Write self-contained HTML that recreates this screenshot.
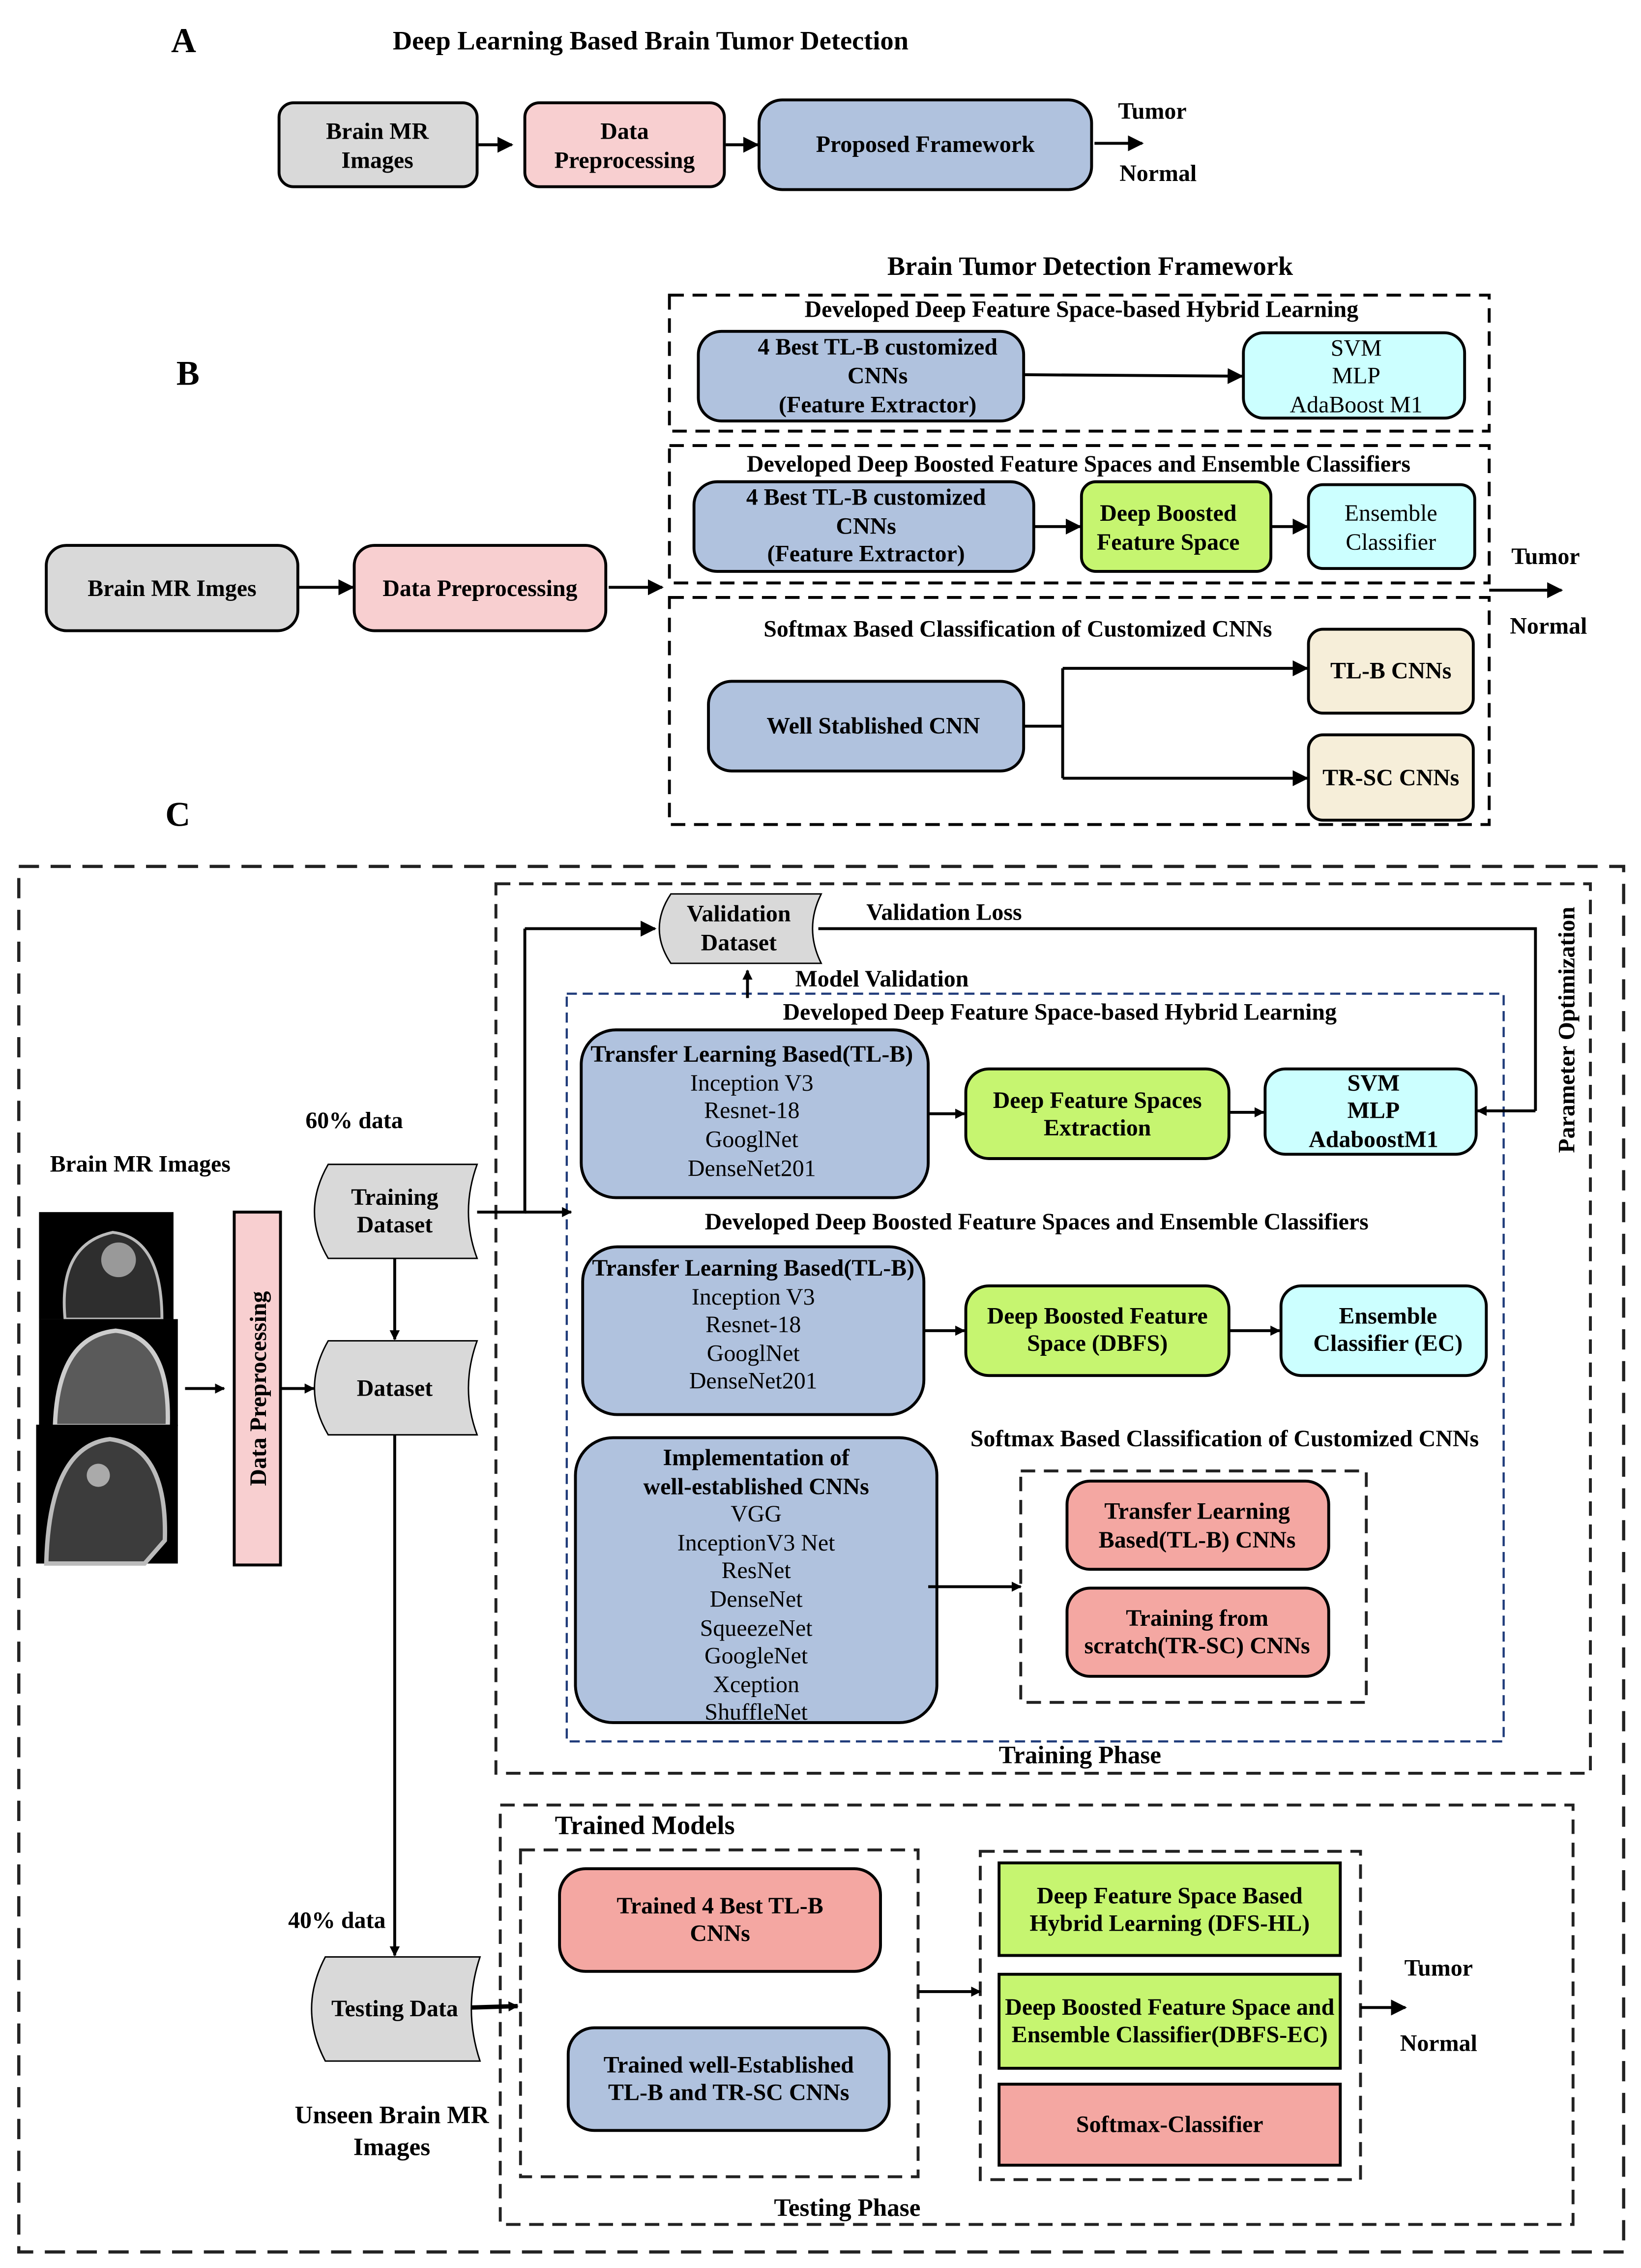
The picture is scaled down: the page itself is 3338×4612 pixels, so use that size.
<!DOCTYPE html>
<html><head><meta charset="utf-8"><style>
html,body{margin:0;padding:0;background:#fff}
svg{display:block}
text{font-family:"Liberation Serif",serif;fill:#000}
.b{font-weight:bold}
</style></head><body>
<svg width="3338" height="4612" viewBox="0 0 1135 1568" xmlns="http://www.w3.org/2000/svg">
<defs>
<marker id="ar" viewBox="0 0 10 10" refX="9" refY="5" markerWidth="7" markerHeight="7" markerUnits="userSpaceOnUse" orient="auto"><path d="M0,0 L10,5 L0,10 Z" fill="#000"/></marker>
<marker id="ab" viewBox="0 0 10 10" refX="9" refY="5" markerWidth="11" markerHeight="11" markerUnits="userSpaceOnUse" orient="auto"><path d="M0,0 L10,5 L0,10 Z" fill="#000"/></marker>
</defs>
<g font-size="16.3" class="b" text-anchor="middle" font-weight="bold">
<!-- A -->
<text x="127" y="36" font-size="24" class="b">A</text>
<text x="450" y="34" font-size="18.5" class="b">Deep Learning Based Brain Tumor Detection</text>
<rect x="193" y="71" width="137" height="58" rx="10" fill="#d9d9d9" stroke="#000" stroke-width="2"/>
<text x="261" y="96" class="b">Brain MR</text><text x="261" y="116" class="b">Images</text>
<line x1="331" y1="100" x2="354" y2="100" stroke="#000" stroke-width="2" marker-end="url(#ab)"/>
<rect x="363" y="71" width="138" height="58" rx="10" fill="#f8cfd0" stroke="#000" stroke-width="2"/>
<text x="432" y="96" class="b">Data</text><text x="432" y="116" class="b">Preprocessing</text>
<line x1="502" y1="100" x2="524" y2="100" stroke="#000" stroke-width="2" marker-end="url(#ab)"/>
<rect x="525" y="69" width="230" height="62" rx="16" fill="#b0c2de" stroke="#000" stroke-width="2"/>
<text x="640" y="105" class="b">Proposed Framework</text>
<line x1="757" y1="99" x2="790" y2="99" stroke="#000" stroke-width="2" marker-end="url(#ab)"/>
<text x="797" y="82" class="b">Tumor</text><text x="801" y="125" class="b">Normal</text>

<!-- B -->
<text x="130" y="266" font-size="24" class="b">B</text>
<text x="754" y="190" font-size="18.5" class="b">Brain Tumor Detection Framework</text>
<g fill="none" stroke="#000" stroke-width="2" stroke-dasharray="10,6">
<rect x="463" y="204" width="567" height="94"/>
<rect x="463" y="308" width="567" height="95"/>
<rect x="463" y="413" width="567" height="157"/>
</g>
<text x="748" y="219" class="b">Developed Deep Feature Space-based Hybrid Learning</text>
<rect x="483" y="229" width="225" height="62" rx="16" fill="#b0c2de" stroke="#000" stroke-width="2"/>
<text x="607" y="245" class="b">4 Best TL-B customized</text><text x="607" y="265" class="b">CNNs</text><text x="607" y="285" class="b">(Feature Extractor)</text>
<line x1="708" y1="259" x2="859" y2="260" stroke="#000" stroke-width="2" marker-end="url(#ab)"/>
<rect x="860" y="230" width="153" height="59" rx="14" fill="#ccffff" stroke="#000" stroke-width="2"/>
<g font-weight="normal"><text x="938" y="246">SVM</text><text x="938" y="265">MLP</text><text x="938" y="285">AdaBoost M1</text></g>

<text x="746" y="326" class="b">Developed Deep Boosted Feature Spaces and Ensemble Classifiers</text>
<rect x="480" y="333" width="235" height="62" rx="16" fill="#b0c2de" stroke="#000" stroke-width="2"/>
<text x="599" y="349" class="b">4 Best TL-B customized</text><text x="599" y="369" class="b">CNNs</text><text x="599" y="388" class="b">(Feature Extractor)</text>
<line x1="715" y1="364" x2="747" y2="364" stroke="#000" stroke-width="2" marker-end="url(#ab)"/>
<rect x="748" y="333" width="131" height="62" rx="10" fill="#c6f570" stroke="#000" stroke-width="2"/>
<text x="808" y="360" class="b">Deep Boosted</text><text x="808" y="380" class="b">Feature Space</text>
<line x1="879" y1="364" x2="904" y2="364" stroke="#000" stroke-width="2" marker-end="url(#ab)"/>
<rect x="905" y="335" width="115" height="58" rx="10" fill="#ccffff" stroke="#000" stroke-width="2"/>
<g font-weight="normal"><text x="962" y="360">Ensemble</text><text x="962" y="380">Classifier</text></g>

<text x="704" y="440" class="b">Softmax Based Classification of Customized CNNs</text>
<rect x="490" y="471" width="218" height="62" rx="16" fill="#b0c2de" stroke="#000" stroke-width="2"/>
<text x="604" y="507" class="b">Well Stablished CNN</text>
<path d="M708,502 H735 M735,462 V538" stroke="#000" stroke-width="2" fill="none"/>
<line x1="735" y1="462" x2="904" y2="462" stroke="#000" stroke-width="2" marker-end="url(#ab)"/>
<line x1="735" y1="538" x2="904" y2="538" stroke="#000" stroke-width="2" marker-end="url(#ab)"/>
<rect x="905" y="435" width="114" height="58" rx="10" fill="#f6eed9" stroke="#000" stroke-width="2"/>
<text x="962" y="469" class="b">TL-B CNNs</text>
<rect x="905" y="508" width="114" height="59" rx="10" fill="#f6eed9" stroke="#000" stroke-width="2"/>
<text x="962" y="543" class="b">TR-SC CNNs</text>

<rect x="32" y="377" width="174" height="59" rx="14" fill="#d9d9d9" stroke="#000" stroke-width="2"/>
<text x="119" y="412" class="b">Brain MR Imges</text>
<line x1="206" y1="406" x2="244" y2="406" stroke="#000" stroke-width="2" marker-end="url(#ab)"/>
<rect x="245" y="377" width="174" height="59" rx="14" fill="#f8cfd0" stroke="#000" stroke-width="2"/>
<text x="332" y="412" class="b">Data Preprocessing</text>
<line x1="421" y1="406" x2="458" y2="406" stroke="#000" stroke-width="2" marker-end="url(#ab)"/>
<line x1="1030" y1="408" x2="1080" y2="408" stroke="#000" stroke-width="2" marker-end="url(#ab)"/>
<text x="1069" y="390" class="b">Tumor</text><text x="1071" y="438" class="b">Normal</text>

<!-- C -->
<text x="123" y="571" font-size="24" class="b">C</text>
<g fill="none" stroke="#222" stroke-width="2.2" stroke-dasharray="14,8">
<rect x="13" y="599" width="1110" height="958"/>
</g>
<g fill="none" stroke="#222" stroke-width="2" stroke-dasharray="10,6">
<rect x="343" y="611" width="757" height="615"/>
<rect x="346" y="1248" width="742" height="290"/>
<rect x="706" y="1017" width="239" height="160"/>
<rect x="360" y="1279" width="275" height="226"/>
<rect x="678" y="1280" width="263" height="227"/>
</g>
<rect x="392" y="687" width="648" height="517" fill="none" stroke="#1f3b7a" stroke-width="1.5" stroke-dasharray="7,4"/>
<text x="747" y="1219" class="b" font-size="17.4">Training Phase</text>
<text x="586" y="1532" class="b" font-size="17.4">Testing Phase</text>
<text x="0" y="0" class="b" transform="translate(1089,712) rotate(-90)">Parameter Optimization</text>

<path d="M464,618 H568 Q556,642 568,666 H464 Q448,642 464,618 Z" fill="#d9d9d9" stroke="#000" stroke-width="1"/>
<text x="511" y="637" class="b">Validation</text><text x="511" y="657" class="b">Dataset</text>
<text x="653" y="636" class="b">Validation Loss</text>
<path d="M566,642 H1062 V768" stroke="#000" stroke-width="2" fill="none"/>
<line x1="1062" y1="768" x2="1022" y2="768" stroke="#000" stroke-width="2" marker-end="url(#ar)"/>
<text x="610" y="682" class="b">Model Validation</text>
<line x1="517" y1="690" x2="517" y2="671" stroke="#000" stroke-width="2" marker-end="url(#ar)"/>
<path d="M330,838 H363 V642" stroke="#000" stroke-width="2" fill="none"/>
<line x1="363" y1="642" x2="453" y2="642" stroke="#000" stroke-width="2" marker-end="url(#ab)"/>
<line x1="363" y1="838" x2="395" y2="838" stroke="#000" stroke-width="2" marker-end="url(#ar)"/>

<text x="733" y="705" class="b">Developed Deep Feature Space-based Hybrid Learning</text>
<rect x="402" y="712" width="240" height="116" rx="24" fill="#b0c2de" stroke="#000" stroke-width="2"/>
<text x="520" y="734" class="b">Transfer Learning Based(TL-B)</text>
<g font-weight="normal"><text x="520" y="754">Inception V3</text><text x="520" y="773">Resnet-18</text><text x="520" y="793">GooglNet</text><text x="520" y="813">DenseNet201</text></g>
<line x1="642" y1="770" x2="667" y2="770" stroke="#000" stroke-width="2" marker-end="url(#ar)"/>
<rect x="668" y="739" width="182" height="62" rx="16" fill="#c6f570" stroke="#000" stroke-width="2"/>
<text x="759" y="766" class="b">Deep Feature Spaces</text><text x="759" y="785" class="b">Extraction</text>
<line x1="850" y1="769" x2="874" y2="769" stroke="#000" stroke-width="2" marker-end="url(#ar)"/>
<rect x="875" y="739" width="146" height="59" rx="14" fill="#ccffff" stroke="#000" stroke-width="2"/>
<text x="950" y="754" class="b">SVM</text><text x="950" y="773" class="b">MLP</text><text x="950" y="793" class="b">AdaboostM1</text>

<text x="717" y="850" class="b">Developed Deep Boosted Feature Spaces and Ensemble Classifiers</text>
<rect x="403" y="862" width="236" height="116" rx="24" fill="#b0c2de" stroke="#000" stroke-width="2"/>
<text x="521" y="882" class="b">Transfer Learning Based(TL-B)</text>
<g font-weight="normal"><text x="521" y="902">Inception V3</text><text x="521" y="921">Resnet-18</text><text x="521" y="941">GooglNet</text><text x="521" y="960">DenseNet201</text></g>
<line x1="639" y1="920" x2="667" y2="920" stroke="#000" stroke-width="2" marker-end="url(#ar)"/>
<rect x="668" y="889" width="182" height="62" rx="16" fill="#c6f570" stroke="#000" stroke-width="2"/>
<text x="759" y="915" class="b">Deep Boosted Feature</text><text x="759" y="934" class="b">Space (DBFS)</text>
<line x1="850" y1="920" x2="885" y2="920" stroke="#000" stroke-width="2" marker-end="url(#ar)"/>
<rect x="886" y="889" width="142" height="62" rx="14" fill="#ccffff" stroke="#000" stroke-width="2"/>
<text x="960" y="915" class="b">Ensemble</text><text x="960" y="934" class="b">Classifier (EC)</text>

<text x="847" y="1000" class="b">Softmax Based Classification of Customized CNNs</text>
<rect x="398" y="994" width="250" height="197" rx="26" fill="#b0c2de" stroke="#000" stroke-width="2"/>
<text x="523" y="1013" class="b">Implementation of</text><text x="523" y="1033" class="b">well-established CNNs</text>
<g font-weight="normal"><text x="523" y="1052">VGG</text><text x="523" y="1072">InceptionV3 Net</text><text x="523" y="1091">ResNet</text><text x="523" y="1111">DenseNet</text><text x="523" y="1131">SqueezeNet</text><text x="523" y="1150">GoogleNet</text><text x="523" y="1170">Xception</text><text x="523" y="1189">ShuffleNet</text></g>
<line x1="642" y1="1097" x2="706" y2="1097" stroke="#000" stroke-width="2" marker-end="url(#ar)"/>
<rect x="738" y="1024" width="181" height="61" rx="16" fill="#f4a7a2" stroke="#000" stroke-width="2"/>
<text x="828" y="1050" class="b">Transfer Learning</text><text x="828" y="1070" class="b">Based(TL-B) CNNs</text>
<rect x="738" y="1098" width="181" height="61" rx="16" fill="#f4a7a2" stroke="#000" stroke-width="2"/>
<text x="828" y="1124" class="b">Training from</text><text x="828" y="1143" class="b">scratch(TR-SC) CNNs</text>

<text x="97" y="810" class="b">Brain MR Images</text>
<rect x="27" y="838" width="93" height="74" fill="#000"/>
<path d="M45,912 Q40,860 78,852 Q112,856 112,912 Z" fill="#2e2e2e" stroke="#bbb" stroke-width="2"/>
<circle cx="82" cy="871" r="12" fill="#999"/>
<rect x="27" y="912" width="96" height="74" fill="#000"/>
<path d="M38,986 Q40,924 80,920 Q118,924 116,986 Z" fill="#5a5a5a" stroke="#ccc" stroke-width="3"/>
<rect x="25" y="985" width="98" height="96" fill="#000"/>
<path d="M32,1081 Q34,1000 76,995 Q116,1000 114,1065 L100,1081 Z" fill="#3c3c3c" stroke="#bbb" stroke-width="3"/>
<circle cx="68" cy="1020" r="8" fill="#aaa"/>
<line x1="128" y1="960" x2="155" y2="960" stroke="#000" stroke-width="2" marker-end="url(#ar)"/>
<rect x="162" y="838" width="32" height="244" fill="#f8cfd0" stroke="#000" stroke-width="2"/>
<text x="0" y="0" class="b" transform="translate(184,960) rotate(-90)">Data Preprocessing</text>
<line x1="194" y1="960" x2="217" y2="960" stroke="#000" stroke-width="2" marker-end="url(#ar)"/>
<text x="245" y="780" class="b">60% data</text>
<path d="M227,805 H330 Q318,838 330,870 H227 Q208,838 227,805 Z" fill="#d9d9d9" stroke="#000" stroke-width="1"/>
<text x="273" y="833" class="b">Training</text><text x="273" y="852" class="b">Dataset</text>
<line x1="273" y1="870" x2="273" y2="926" stroke="#000" stroke-width="2" marker-end="url(#ar)"/>
<path d="M227,927 H330 Q318,960 330,992 H227 Q208,960 227,927 Z" fill="#d9d9d9" stroke="#000" stroke-width="1"/>
<text x="273" y="965" class="b">Dataset</text>
<line x1="273" y1="992" x2="273" y2="1352" stroke="#000" stroke-width="2" marker-end="url(#ar)"/>
<text x="233" y="1333" class="b">40% data</text>
<path d="M225,1353 H332 Q320,1389 332,1425 H225 Q206,1389 225,1353 Z" fill="#d9d9d9" stroke="#000" stroke-width="1"/>
<text x="273" y="1394" class="b">Testing Data</text>
<line x1="326" y1="1388" x2="358" y2="1387" stroke="#000" stroke-width="3" marker-end="url(#ar)"/>
<text x="271" y="1468" class="b" font-size="17.4">Unseen Brain MR</text><text x="271" y="1490" class="b" font-size="17.4">Images</text>

<text x="446" y="1268" class="b" font-size="18.5">Trained Models</text>
<rect x="387" y="1292" width="222" height="71" rx="18" fill="#f4a7a2" stroke="#000" stroke-width="2"/>
<text x="498" y="1323" class="b">Trained  4 Best TL-B</text><text x="498" y="1342" class="b">CNNs</text>
<rect x="393" y="1402" width="222" height="71" rx="18" fill="#b0c2de" stroke="#000" stroke-width="2"/>
<text x="504" y="1433" class="b">Trained well-Established</text><text x="504" y="1452" class="b">TL-B and TR-SC CNNs</text>
<line x1="635" y1="1377" x2="678" y2="1377" stroke="#000" stroke-width="2" marker-end="url(#ar)"/>
<rect x="691" y="1288" width="236" height="64" fill="#c6f570" stroke="#000" stroke-width="2"/>
<text x="809" y="1316" class="b">Deep Feature Space Based</text><text x="809" y="1335" class="b">Hybrid Learning (DFS-HL)</text>
<rect x="691" y="1365" width="236" height="65" fill="#c6f570" stroke="#000" stroke-width="2"/>
<text x="809" y="1393" class="b">Deep Boosted Feature Space and</text><text x="809" y="1412" class="b">Ensemble Classifier(DBFS-EC)</text>
<rect x="691" y="1441" width="236" height="56" fill="#f4a7a2" stroke="#000" stroke-width="2"/>
<text x="809" y="1474" class="b">Softmax-Classifier</text>
<line x1="941" y1="1388" x2="972" y2="1388" stroke="#000" stroke-width="2" marker-end="url(#ab)"/>
<text x="995" y="1366" class="b">Tumor</text><text x="995" y="1418" class="b">Normal</text>
</g>
</svg>
</body></html>
